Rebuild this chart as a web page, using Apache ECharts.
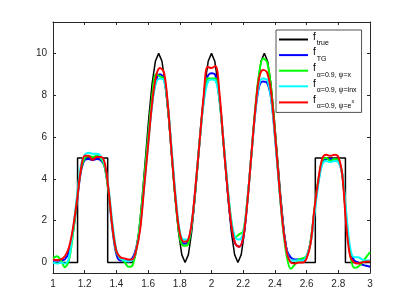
<!DOCTYPE html>
<html><head><meta charset="utf-8">
<script src="https://cdn.jsdelivr.net/npm/echarts@6/dist/echarts.min.js"></script>
<style>html,body{margin:0;padding:0;background:#fff}#c{width:409px;height:307px}</style>
</head><body><div id="c"></div>
<script>
// sample grid of the reconstructions
const xGrid = [1.000,1.025,1.050,1.075,1.100,1.125,1.150,1.175,1.200,1.225,1.250,1.275,1.300,1.325,1.350,1.375,1.400,1.425,1.450,1.475,1.500,1.525,1.550,1.575,1.600,1.625,1.650,1.675,1.700,1.725,1.750,1.775,1.800,1.825,1.850,1.875,1.900,1.925,1.950,1.975,2.000,2.025,2.050,2.075,2.100,2.125,2.150,2.175,2.200,2.225,2.250,2.275,2.300,2.325,2.350,2.375,2.400,2.425,2.450,2.475,2.500,2.525,2.550,2.575,2.600,2.625,2.650,2.675,2.700,2.725,2.750,2.775,2.800,2.825,2.850,2.875,2.900,2.925,2.950,2.975,3.000];

// f_true
const trueX = [1,1.155,1.155,1.345,1.345,1.5,
 1.52083,1.54167,1.5625,1.58333,1.60417,1.625,1.64583,1.66667,1.6875,1.70833,1.72917,1.75,1.77083,1.79167,1.8125,1.83333,
 1.85417,1.875,1.89583,1.91667,1.9375,1.95833,1.97917,2.0,2.02083,2.04167,2.0625,2.08333,2.10417,2.125,2.14583,2.16667,
 2.1875,2.20833,2.22917,2.25,2.27083,2.29167,2.3125,2.33333,2.35417,2.375,2.39583,2.41667,2.4375,2.45833,2.47917,2.5,
 2.655,2.655,2.845,2.845,3];
const trueY = [0,0,5,5,0,0,
 0.38,1.46,3.09,5,6.91,8.54,9.62,10,9.62,8.54,6.91,5,3.09,1.46,0.38,0,
 0.38,1.46,3.09,5,6.91,8.54,9.62,10,9.62,8.54,6.91,5,3.09,1.46,0.38,0,
 0.38,1.46,3.09,5,6.91,8.54,9.62,10,9.62,8.54,6.91,5,3.09,1.46,0.38,0,
 0,5,5,0,0];

// f_TG
const tgY = [0.1,0.1,0.1,0.15,0.5,1.4,2.8,4.3,4.9,4.95,
 4.9,4.95,4.9,4.6,3.4,1.6,0.4,0.1,0.1,0.1,
 0.2,0.7,1.8,3.8,5.8,7.6,8.7,9.0,8.8,7.4,
 5.1,2.9,1.3,0.9,0.95,1.8,3.6,5.8,7.7,8.9,
 9.05,8.95,7.8,5.8,3.6,1.8,0.9,0.75,1.2,2.8,
 5.0,7.1,8.4,8.65,8.6,7.9,6.1,3.9,1.9,0.6,
 0.25,0.15,0.15,0.15,0.3,1.0,2.5,3.9,4.8,4.95,
 4.95,4.95,4.85,4.2,2.1,0.5,0.1,0.0,-0.1,-0.15,
 -0.2];
// alpha=0.9, psi=x
const psiXY = [0.2,0.3,0.1,-0.22,0.1,1.3,2.9,4.4,5.0,5.1,
 5.05,5.1,5.0,4.6,3.4,1.7,0.5,0.2,0.05,-0.2,
 -0.15,0.6,2.0,4.0,6.0,7.9,9.0,8.9,8.8,7.4,
 5.1,2.8,1.2,0.8,0.85,1.8,3.6,5.8,7.7,8.8,
 8.8,8.8,7.8,5.8,3.7,2.0,1.2,1.35,1.5,2.9,
 5.0,7.3,9.0,9.75,9.6,8.4,6.3,3.9,1.7,0.3,
 -0.3,-0.1,0.15,0.2,0.3,1.0,2.6,4.0,4.9,5.0,
 4.85,4.95,4.9,4.2,2.1,0.4,-0.25,-0.2,0.0,0.25,
 0.5];
// alpha=0.9, psi=ln x
const psiLnY = [0.0,-0.05,0.0,-0.05,0.2,1.5,3.1,4.6,5.15,5.25,
 5.2,5.2,5.1,4.7,3.6,1.9,0.6,0.2,0.1,0.05,
 0.1,0.6,1.7,3.6,5.6,7.5,8.6,8.8,8.7,7.5,
 5.3,3.1,1.5,1.1,1.1,1.9,3.7,5.8,7.6,8.6,
 8.75,8.7,7.8,5.9,3.8,2.0,1.2,1.1,1.4,2.9,
 5.0,7.1,8.5,8.8,8.75,7.9,6.0,3.8,1.8,0.5,
 0.1,0.1,0.1,0.1,0.3,0.9,2.3,3.8,4.7,4.85,
 4.8,4.85,4.8,4.3,2.4,0.7,0.25,0.25,0.15,0.1,
 0.1];
// alpha=0.9, psi=e^x
const psiExpY = [0.15,0.12,0.15,0.3,0.7,1.6,2.9,4.4,5.1,5.1,
 4.9,5.05,5.05,4.8,3.5,1.7,0.55,0.25,0.2,0.15,
 0.15,0.6,1.6,3.6,5.6,7.6,8.9,9.3,9.1,7.5,
 5.1,2.9,1.4,1.0,1.05,1.9,3.7,5.8,7.9,9.35,
 9.3,9.4,8.1,5.8,3.6,1.8,0.9,0.75,1.2,2.8,
 5.0,7.2,8.8,9.2,9.1,8.2,6.2,3.9,1.8,0.5,
 0.0,-0.05,0.0,0.0,0.2,0.9,2.6,4.0,5.0,5.15,
 5.1,5.15,5.05,4.2,1.8,0.3,0.0,-0.05,0.0,0.05,
 0.05];

const yTicks = [0,2,4,6,8,10];
const xTicks = [1,1.2,1.4,1.6,1.8,2,2.2,2.4,2.6,2.8,3];

const axisColor = '#262626';
const font = 'Liberation Sans, Arial, Helvetica, sans-serif';
const pair = (xs, ys) => xs.map((x, i) => [x, ys[i]]);

const legendText = {
  'true': '{f|f}{s|true}',
  'TG': '{f|f}{s|TG}',
  'x': '{f|f}{s|α=0.9, ψ=x}',
  'lnx': '{f|f}{s|α=0.9, ψ=lnx}',
  'ex': '{f|f}{s|α=0.9, ψ=e}{p|x}'
};

const chart = echarts.init(document.getElementById('c'), null, {renderer: 'canvas'});
const xAxisBase = {
  type: 'value', min: 1, max: 3, interval: 0.2,
  axisLine: {onZero: false, lineStyle: {color: axisColor, width: 1}},
  axisTick: {inside: true, length: 3, lineStyle: {color: axisColor}},
  splitLine: {show: false}
};
const yAxisBase = {
  type: 'value', min: -0.5, max: 11.5,
  axisLine: {show: true, onZero: false, lineStyle: {color: axisColor, width: 1}},
  axisTick: {show: true, inside: true, length: 3, customValues: yTicks, lineStyle: {color: axisColor}},
  splitLine: {show: false}
};
const line = (name, data, color, width) => ({
  name, type: 'line', data, showSymbol: false, symbol: 'none', smooth: width > 1.6 ? 0.35 : false,
  lineStyle: {color, width}, itemStyle: {color}, emphasis: {disabled: true}, z: 2
});

chart.setOption({
  animation: false,
  grid: {left: 53, right: 39, top: 22, bottom: 34},
  xAxis: [
    Object.assign({}, xAxisBase, {position: 'bottom',
      axisLabel: {color: axisColor, fontSize: 10, fontFamily: font, margin: 6,
        customValues: xTicks}}),
    Object.assign({}, xAxisBase, {position: 'top', axisLabel: {show: false}})
  ],
  yAxis: [
    Object.assign({}, yAxisBase, {position: 'left',
      axisLabel: {color: axisColor, fontSize: 10, fontFamily: font, margin: 6, customValues: yTicks}}),
    Object.assign({}, yAxisBase, {position: 'right', axisLabel: {show: false}})
  ],
  legend: {
    orient: 'vertical', left: 276, top: 30,
    padding: [2, 5, 2, 3], icon: 'rect', itemWidth: 29, itemHeight: 2, itemGap: 0.6,
    borderColor: axisColor, borderWidth: 0.8, backgroundColor: '#fff',
    data: ['true', 'TG', 'x', 'lnx', 'ex'],
    formatter: (n) => legendText[n],
    textStyle: {
      fontFamily: font, color: '#000',
      rich: {
        f: {fontSize: 10, lineHeight: 11, padding: [0, 1, 5, 0], fontFamily: font, color: '#000'},
        s: {fontSize: 7, lineHeight: 8, padding: [8, 0, 0, 0], fontFamily: font, color: '#000'},
        p: {fontSize: 5.5, lineHeight: 6, padding: [4, 0, 6, 0], fontFamily: font, color: '#000'}
      }
    }
  },
  series: [
    line('true', pair(trueX, trueY), '#000000', 1.5),
    line('TG', pair(xGrid, tgY), '#0000ff', 2),
    line('x', pair(xGrid, psiXY), '#00ff00', 2),
    line('lnx', pair(xGrid, psiLnY), '#00ffff', 2),
    line('ex', pair(xGrid, psiExpY), '#ff0000', 2)
  ]
});
</script>
</body></html>
